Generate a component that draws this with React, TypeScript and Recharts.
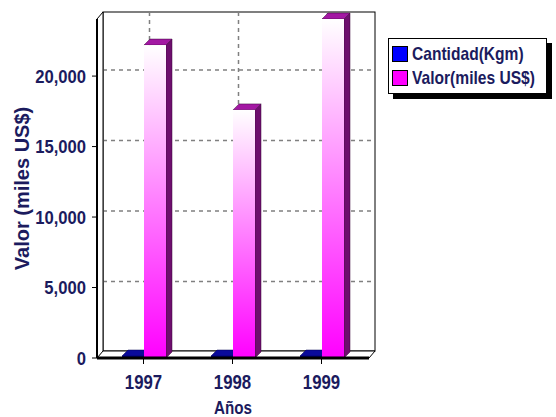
import React from "react";
import {
  BarChart,
  Bar,
  XAxis,
  YAxis,
  usePlotArea,
} from "recharts";

// Datos
const years = ["1997", "1998", "1999"];
const cantidadKgm = [30, 25, 35];
const valorMiles = [22200, 17600, 24050];
const yTicks = [0, 5000, 10000, 15000, 20000];
const seriesNames = ["Cantidad(Kgm)", "Valor(miles US$)"];
const seriesColors = ["#0000ff", "#ff00ff"];

const data = years.map((year, i) => ({
  year,
  cantidad: cantidadKgm[i],
  valor: valorMiles[i],
}));

const yMax = Math.max(...valorMiles);
const DEPTH = 6;
const PAD_L = 2;
const PAD_R = 3;
const font = '"Liberation Sans", Arial, sans-serif';
const textColor = "#1b1b5e";

// Paredes, piso y rejilla punteada del fondo 3D
const Backdrop = () => {
  const pa = usePlotArea();
  if (!pa) return null;
  const { x, y, width: w, height: h } = pa;
  const d = DEPTH;
  const band = (w - PAD_L - PAD_R) / years.length;
  return (
    <g>
      <rect x={x + d} y={y - d - 1} width={w} height={h} fill="#fff" stroke="#000" />
      {yTicks
        .filter((t) => t > 0)
        .map((t) => {
          const yy = y + h * (1 - t / yMax) - d;
          return (
            <line
              key={t}
              x1={x + d}
              x2={x + w + d}
              y1={yy}
              y2={yy}
              stroke="#808080"
              strokeWidth={1.5}
              strokeDasharray="4 4"
            />
          );
        })}
      {years.map((yr, i) => {
        const xx = x + PAD_L + band * (i + 0.5) + d;
        return (
          <line
            key={yr}
            x1={xx}
            x2={xx}
            y1={y - d - 1}
            y2={y + h - d}
            stroke="#808080"
            strokeWidth={1.5}
            strokeDasharray="4 4"
          />
        );
      })}
      <polygon
        points={`${x},${y} ${x + d},${y - d - 1} ${x + d},${y + h - d} ${x},${y + h}`}
        fill="#fff"
        stroke="#000"
      />
      <polygon
        points={`${x},${y + h} ${x + d},${y + h - d - 1} ${x + w + d},${y + h - d - 1} ${x + w},${y + h}`}
        fill="#fff"
        stroke="#000"
      />
    </g>
  );
};

const PinkBar = (props: any) => {
  const { x, y, width: w, height: h } = props;
  const d = DEPTH;
  return (
    <g>
      <polygon
        points={`${x + w},${y} ${x + w + d},${y - d} ${x + w + d},${y + h - d} ${x + w},${y + h}`}
        fill="#6e0e6e"
        stroke="#3a053a"
        strokeWidth={0.5}
      />
      <polygon
        points={`${x},${y} ${x + d},${y - d} ${x + w + d},${y - d} ${x + w},${y}`}
        fill="#a318a3"
        stroke="#3a053a"
        strokeWidth={0.5}
      />
      <rect x={x} y={y} width={w} height={h} fill="url(#pinkGrad)" />
    </g>
  );
};

const BlueBar = (props: any) => {
  const { x, y, width: w, height: h } = props;
  const d = DEPTH;
  const bottom = y + h;
  const top = bottom - 2;
  return (
    <g>
      <polygon
        points={`${x},${top} ${x + d},${top - d} ${x + w + d},${top - d} ${x + w},${top}`}
        fill="#0a0a9a"
        stroke="#000050"
        strokeWidth={0.5}
      />
      <rect x={x} y={top} width={w} height={2} fill="#000080" />
    </g>
  );
};

// texto bold "condensado" (la fuente original es estrecha)
const Narrow = ({ x, y, size, sx, anchor, dy, children }: any) => (
  <text
    transform={`translate(${x},${y}) scale(${sx},1)`}
    textAnchor={anchor}
    dy={dy}
    fill={textColor}
    fontFamily={font}
    fontWeight="bold"
    fontSize={size}
  >
    {children}
  </text>
);

const XTick = (props: any) => {
  const { x, y, payload } = props;
  return (
    <Narrow x={x} y={y} size={21} sx={0.8} anchor="middle" dy="0.71em">
      {payload.value}
    </Narrow>
  );
};

const YTick = (props: any) => {
  const { x, y, payload } = props;
  return (
    <Narrow x={x} y={y} size={18.5} sx={0.9} anchor="end" dy="0.36em">
      {payload.value.toLocaleString("en-US")}
    </Narrow>
  );
};

const XTitle = (props: any) => {
  const { viewBox } = props;
  return (
    <Narrow
      x={viewBox.x + viewBox.width / 2}
      y={viewBox.y + viewBox.height - 3}
      size={19}
      sx={0.8}
      anchor="middle"
    >
      Años
    </Narrow>
  );
};

const YTitle = (props: any) => {
  const { viewBox } = props;
  const cx = viewBox.x - 15;
  const cy = viewBox.y + viewBox.height / 2;
  return (
    <text
      x={cx}
      y={cy}
      transform={`rotate(-90 ${cx} ${cy})`}
      textAnchor="middle"
      dominantBaseline="central"
      fill={textColor}
      fontFamily={font}
      fontWeight="bold"
      fontSize={20}
    >
      Valor (miles US$)
    </text>
  );
};

const ChartLegend = () => (
  <div
    style={{
      position: "absolute",
      left: 388,
      top: 38,
      width: 157,
      height: 54,
      border: "1px solid #000",
      background: "#fff",
      boxShadow: "5px 5px 0 #000",
      fontFamily: font,
      fontWeight: "bold",
      fontSize: 19,
      color: textColor,
      whiteSpace: "nowrap",
    }}
  >
    {seriesNames.map((name, i) => (
      <div
        key={name}
        style={{ display: "flex", alignItems: "center", height: 24, marginTop: i === 0 ? 3 : 0 }}
      >
        <div
          style={{
            width: 14,
            height: 14,
            marginLeft: 3,
            marginRight: 4,
            background: seriesColors[i],
            border: "1px solid #000",
            flex: "none",
          }}
        />
        <span
          style={{
            display: "inline-block",
            transform: "scaleX(0.82)",
            transformOrigin: "left center",
          }}
        >
          {name}
        </span>
      </div>
    ))}
  </div>
);

export default function App() {
  return (
    <div
      style={{
        position: "absolute",
        left: 0,
        top: 0,
        width: 556,
        height: 417,
        background: "#fff",
      }}
    >
      <BarChart
        width={556}
        height={417}
        data={data}
        margin={{ top: 19, right: 187, left: 37, bottom: 0 }}
        barSize={22}
        barGap={0}
      >
        <defs>
          <linearGradient id="pinkGrad" x1="0" y1="0" x2="0" y2="1">
            <stop offset="0%" stopColor="#ffffff" />
            <stop offset="45%" stopColor="#ff8cff" />
            <stop offset="100%" stopColor="#ff00ff" />
          </linearGradient>
        </defs>
        <Backdrop />
        <XAxis
          dataKey="year"
          height={59}
          padding={{ left: PAD_L, right: PAD_R }}
          axisLine={{ stroke: "#000", strokeWidth: 3 }}
          tickLine={{ stroke: "#000" }}
          tickSize={6}
          tickMargin={10}
          tick={<XTick />}
          label={<XTitle />}
        />
        <YAxis
          width={60}
          domain={[0, yMax]}
          ticks={yTicks}
          interval={0}
          axisLine={{ stroke: "#000", strokeWidth: 2 }}
          tickLine={{ stroke: "#000" }}
          tickSize={5}
          tickMargin={6}
          tick={<YTick />}
          label={<YTitle />}
        />
        <Bar
          dataKey="cantidad"
          name={seriesNames[0]}
          fill={seriesColors[0]}
          shape={<BlueBar />}
          isAnimationActive={false}
        />
        <Bar
          dataKey="valor"
          name={seriesNames[1]}
          fill={seriesColors[1]}
          shape={<PinkBar />}
          isAnimationActive={false}
        />
      </BarChart>
      <ChartLegend />
    </div>
  );
}
